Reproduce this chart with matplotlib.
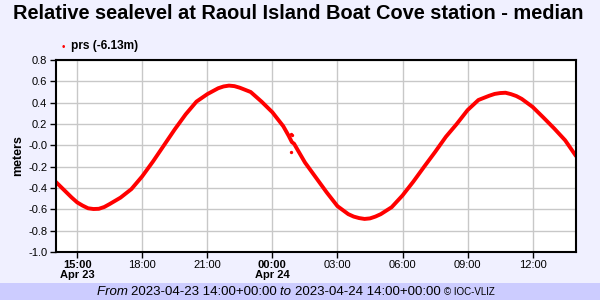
import numpy as np
import matplotlib.pyplot as plt
from datetime import datetime, timedelta

plt.rcParams['font.family'] = ['Liberation Sans', 'DejaVu Sans']

# ore dalle 2023-04-23 14:00 UTC e livello (m)
hours = [0, 0.25, 0.5, 0.75, 1, 1.25, 1.5, 1.75, 2, 2.25, 2.5, 3, 3.5, 4,
         4.5, 5, 5.5, 6, 6.5, 7, 7.5, 7.75, 8, 8.25, 8.5, 9, 9.5, 10, 10.5,
         10.75, 10.9, 11, 11.5, 12, 12.5, 13, 13.5, 13.75, 14, 14.25, 14.5,
         14.75, 15, 15.5, 16, 16.5, 17, 17.5, 18, 18.5, 19, 19.5, 20, 20.25,
         20.5, 20.75, 21, 21.25, 21.5, 22, 22.5, 23, 23.5, 24]
level = [-0.34, -0.39, -0.44, -0.49, -0.535, -0.565, -0.59, -0.597, -0.595,
         -0.578, -0.55, -0.49, -0.41, -0.29, -0.15, 0.0, 0.15, 0.29, 0.41,
         0.48, 0.535, 0.552, 0.56, 0.555, 0.54, 0.50, 0.41, 0.31, 0.18,
         0.09, 0.03, 0.015, -0.16, -0.30, -0.44, -0.57, -0.645, -0.668,
         -0.682, -0.69, -0.685, -0.668, -0.645, -0.58, -0.47, -0.34, -0.20,
         -0.063, 0.08, 0.20, 0.33, 0.425, 0.465, 0.482, 0.49, 0.493, 0.48,
         0.462, 0.435, 0.36, 0.26, 0.157, 0.047, -0.10]
# punti isolati vicino al salto
spike_hours = [10.86, 10.89, 10.88]
spike_level = [0.11, 0.094, -0.063]

t0 = datetime(2023, 4, 23, 14, 0)
t = [t0 + timedelta(hours=h) for h in hours]
ts = [t0 + timedelta(hours=h) for h in spike_hours]

tick_hours = [1, 4, 7, 10, 13, 16, 19, 22]
tick_labels = ["15:00\nApr 23", "18:00", "21:00", "00:00\nApr 24",
               "03:00", "06:00", "09:00", "12:00"]
bold_ticks = [0, 3]

bg = "#f0f0ff"
fig = plt.figure(figsize=(6, 3), dpi=100, facecolor=bg)
ax = fig.add_axes([0.0925, 0.16, 0.8675, 0.64])
ax.set_facecolor("white")

ax.plot(t, level, color="red", lw=2.8, solid_joinstyle="round",
        solid_capstyle="round")
ax.plot(ts, spike_level, "o", color="red", ms=2.4, mew=0)

ax.set_xlim(t0, t0 + timedelta(hours=24))
ax.set_ylim(-1.0, 0.8)
yt = np.arange(-1.0, 0.81, 0.2)
ax.set_yticks(yt)
ax.set_yticklabels([f"{v:.1f}" for v in yt], fontsize=8)
ax.set_xticks([t0 + timedelta(hours=h) for h in tick_hours])
ax.set_xticklabels(tick_labels, fontsize=8, linespacing=1.0)
for i, lab in enumerate(ax.get_xticklabels()):
    if i in bold_ticks:
        lab.set_fontweight("bold")
ax.grid(True, color="#c8c8c8", lw=1)
ax.set_axisbelow(True)
for s in ax.spines.values():
    s.set_linewidth(1.5)
ax.tick_params(direction="out", length=4, width=1, pad=2)
ax.set_ylabel("meters", fontsize=9, fontweight="bold", labelpad=3)

fig.text(0.497, 0.955, "Relative sealevel at Raoul Island Boat Cove station - median",
         ha="center", va="center", fontsize=14.4, fontweight="bold")

# legenda
fig.text(0.105, 0.843, "\u2022", color="red", fontsize=7, ha="center", va="center")
fig.text(0.119, 0.845, "prs (-6.13m)", fontsize=8.6, fontweight="bold", va="center")

# piè di pagina
fig.patches.append(plt.Rectangle((0, 0), 1, 0.057, transform=fig.transFigure,
                                 facecolor="#ccccff", edgecolor="none"))
x = 0.161
parts = [("From ", "italic", 9.5), ("2023-04-23 14:00+00:00 ", "normal", 9.5),
         ("to ", "italic", 9.5), ("2023-04-24 14:00+00:00 ", "normal", 9.5),
         ("\u00a9 IOC-VLIZ", "normal", 7)]
r = fig.canvas.get_renderer()
for txt, style, fs in parts:
    tx = fig.text(x, 0.028, txt, fontsize=fs, style=style, va="center")
    bb = tx.get_window_extent(renderer=r)
    x += bb.width / fig.bbox.width

fig.savefig("out.png", dpi=100, facecolor=bg)
